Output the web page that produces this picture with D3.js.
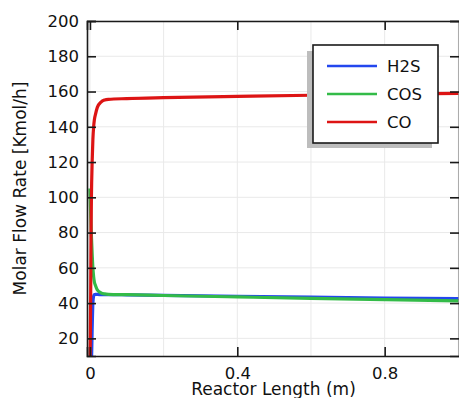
<!DOCTYPE html>
<html>
<head>
<meta charset="utf-8">
<script src="https://cdn.jsdelivr.net/npm/d3@7/dist/d3.min.js"></script>
<style>
  html, body { margin: 0; padding: 0; background: #fff; }
  svg { display: block; font-family: "DejaVu Sans", sans-serif; }
</style>
</head>
<body>
<svg id="chart" width="459" height="398"></svg>
<script>
// Reactor length positions (m)
const lengths = [0, 0.001, 0.002, 0.003, 0.004, 0.006, 0.008, 0.01, 0.012, 0.015, 0.02, 0.03, 0.04, 0.05, 0.1, 0.2, 0.4, 0.6, 0.8, 1.0];

// Molar flow rates (Kmol/h) at each position
const h2s = [0, 0, 0, 1, 5, 25, 40, 44, 44.8, 45, 44.9, 44.85, 44.8, 44.8, 44.7, 44.4, 43.9, 43.4, 42.9, 42.6];
const cos = [105, 98, 90, 84, 78, 68, 60, 55, 52, 50, 47.5, 45.8, 45.2, 45, 44.8, 44.3, 43.5, 42.7, 42, 41.3];
const co  = [0, 20, 45, 80, 100, 120, 133, 140, 144, 147, 151, 154, 155.2, 155.6, 156, 156.5, 157.2, 157.9, 158.5, 159];

const seriesNames = ["H2S", "COS", "CO"];
const seriesColors = ["#2347ee", "#33bb48", "#dd1414"];
const seriesValues = [h2s, cos, co];

const yTicks = [20, 40, 60, 80, 100, 120, 140, 160, 180, 200];
const xTickLabels = [0, 0.4, 0.8];
const xGrid = [0, 0.2, 0.4, 0.6, 0.8, 1.0];

const svg = d3.select("#chart");
const plotL = 87, plotR = 460, plotT = 21, plotB = 356;

const x = d3.scaleLinear().domain([-0.008, 1.0045]).range([plotL, plotR]);
const y = d3.scaleLinear().domain([10, 200]).range([plotB, plotT]);

// grid
const grid = svg.append("g");
grid.selectAll("line.gx").data(xGrid).join("line")
  .attr("x1", d => x(d)).attr("x2", d => x(d))
  .attr("y1", plotT).attr("y2", plotB)
  .attr("stroke", "#e9e9e9").attr("stroke-width", 1);
grid.selectAll("line.gy").data(yTicks).join("line")
  .attr("x1", plotL).attr("x2", plotR)
  .attr("y1", d => y(d)).attr("y2", d => y(d))
  .attr("stroke", "#e9e9e9").attr("stroke-width", 1);

// curves
svg.append("clipPath").attr("id", "plot-clip")
  .append("rect").attr("x", plotL).attr("y", plotT)
  .attr("width", plotR - plotL).attr("height", plotB - plotT);

const line = d3.line()
  .x((d, i) => x(lengths[i]))
  .y(d => y(d))
  .curve(d3.curveMonotoneX);

const curves = svg.append("g").attr("clip-path", "url(#plot-clip)");
seriesValues.forEach((vals, k) => {
  curves.append("path")
    .datum(vals)
    .attr("d", line)
    .attr("fill", "none")
    .attr("stroke", seriesColors[k])
    .attr("stroke-width", 3.2)
    .attr("stroke-linejoin", "round");
});

// axes with inward ticks
const axisColor = "#1a1a1a";
const tickLen = 9;

const yAxisL = d3.axisLeft(y).tickValues(yTicks).tickSize(-tickLen).tickPadding(8);
const gl = svg.append("g").attr("transform", `translate(${plotL},0)`).call(yAxisL);
const yAxisR = d3.axisRight(y).tickValues(yTicks).tickSize(-tickLen).tickFormat("");
const gr = svg.append("g").attr("transform", `translate(${plotR - 1},0)`).call(yAxisR);

const xAxisB = d3.axisBottom(x).tickValues(xTickLabels).tickSize(-tickLen).tickPadding(11)
  .tickFormat(d => d === 0 ? "0" : d3.format(".1f")(d));
const gb = svg.append("g").attr("transform", `translate(0,${plotB})`).call(xAxisB);
const xAxisT = d3.axisTop(x).tickValues(xTickLabels).tickSize(-tickLen).tickFormat("");
const gt = svg.append("g").attr("transform", `translate(0,${plotT})`).call(xAxisT);

[gl, gr, gb, gt].forEach(g => {
  g.select(".domain").attr("stroke", axisColor).attr("stroke-width", 1.6);
  g.selectAll(".tick line").attr("stroke", axisColor).attr("stroke-width", 1.6);
  g.selectAll(".tick text").attr("fill", "#111").attr("font-size", 16.5)
    .attr("font-family", "DejaVu Sans, sans-serif");
});

// axis titles
svg.append("text")
  .attr("transform", `translate(26,${(plotT + plotB) / 2}) rotate(-90)`)
  .attr("text-anchor", "middle")
  .attr("font-size", 17).attr("fill", "#111")
  .text("Molar Flow Rate [Kmol/h]");

svg.append("text")
  .attr("x", (plotL + plotR) / 2).attr("y", 395)
  .attr("text-anchor", "middle")
  .attr("font-size", 17).attr("fill", "#111")
  .text("Reactor Length (m)");

// legend
const lg = svg.append("g");
lg.append("rect").attr("x", 307).attr("y", 51).attr("width", 125).attr("height", 97)
  .attr("fill", "#bdbdbd");
lg.append("rect").attr("x", 313).attr("y", 45).attr("width", 125).attr("height", 98)
  .attr("fill", "#fff").attr("stroke", "#1a1a1a").attr("stroke-width", 1.6);
seriesNames.forEach((name, k) => {
  const ly = 66 + k * 28;
  lg.append("line").attr("x1", 327).attr("x2", 377).attr("y1", ly).attr("y2", ly)
    .attr("stroke", seriesColors[k]).attr("stroke-width", 2.5);
  lg.append("text").attr("x", 387).attr("y", ly + 6)
    .attr("font-size", 16.5).attr("fill", "#111").text(name);
});
</script>
</body>
</html>
